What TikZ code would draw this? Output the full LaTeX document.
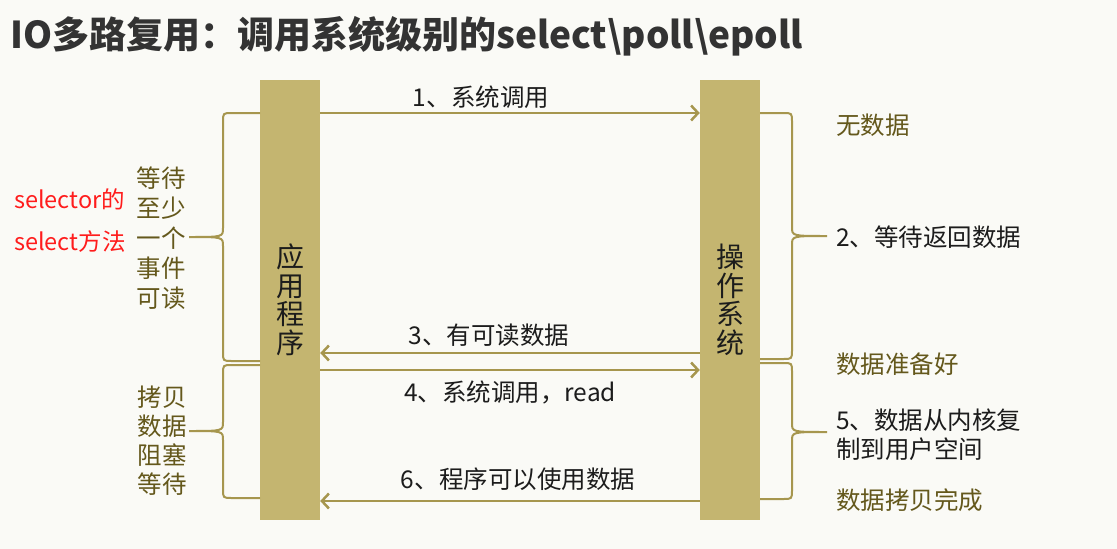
\documentclass[tikz,border=0pt]{standalone}
\usepackage{fontspec}
\setmainfont{Noto Sans CJK SC}
\usetikzlibrary{arrows.meta}
\definecolor{bg}{RGB}{250,250,246}
\definecolor{barc}{RGB}{196,181,112}
\definecolor{linec}{RGB}{166,150,78}
\definecolor{olive}{RGB}{100,88,28}
\definecolor{ink}{RGB}{28,28,28}
\definecolor{redt}{RGB}{255,28,28}
% left-pointing brace: #1 end x, #2 vertical x, #3 tip x, #4 top y, #5 mid y, #6 bottom y
\newcommand\leftbrc[6]{%
  \draw[brc] (#1,#4) -- ({#2+9},#4) .. controls (#2,#4) .. (#2,{#4+9})
    -- (#2,{#5-9}) .. controls (#2,#5) .. (#3,#5)
    .. controls (#2,#5) .. (#2,{#5+9}) -- (#2,{#6-9})
    .. controls (#2,#6) .. ({#2+9},#6) -- (#1,#6);}
\newcommand\rightbrc[6]{%
  \draw[brc] (#1,#4) -- ({#2-9},#4) .. controls (#2,#4) .. (#2,{#4+9})
    -- (#2,{#5-9}) .. controls (#2,#5) .. (#3,#5)
    .. controls (#2,#5) .. (#2,{#5+9}) -- (#2,{#6-9})
    .. controls (#2,#6) .. ({#2-9},#6) -- (#1,#6);}
\begin{document}
\begin{tikzpicture}[x=1pt,y=-1pt,
  bar/.style={fill=barc, minimum width=60pt, minimum height=440pt, inner sep=0pt,
    align=center, font=\fontsize{28}{28.5}\selectfont, text=ink},
  arr/.style={draw=linec, line width=2.5pt,
    -{Straight Barb[length=7pt,width=15pt,line width=2.5pt]}},
  brc/.style={draw=linec, line width=2pt},
  lbl/.style={font=\fontsize{24.5}{29}\selectfont, text=ink, inner sep=0pt, align=left},
  olv/.style={font=\fontsize{24.5}{29}\selectfont, text=olive, inner sep=0pt, align=center},
  redl/.style={font=\fontsize{23.5}{42}\selectfont, text=redt, inner sep=0pt, align=left}]
\path[use as bounding box, fill=bg] (0,0) rectangle (1117,549);

\node[anchor=west, inner sep=0pt, font=\fontsize{37}{40}\selectfont\bfseries, text=ink!90] (title) at (10,36)
  {IO多路复用：调用系统级别的select\textbackslash poll\textbackslash epoll};

\node[bar] (app) at (290,300) {应\\用\\程\\序};
\node[bar] (os) at (730,300) {操\\作\\系\\统};

\coordinate (y1) at (0,113);
\coordinate (y3) at (0,353);
\coordinate (y4) at (0,370);
\coordinate (y6) at (0,501);
\draw[arr] (app.east |- y1) -- (os.west |- y1);
\draw[arr] (os.west |- y3) -- (app.east |- y3);
\draw[arr] (app.east |- y4) -- (os.west |- y4);
\draw[arr] (os.west |- y6) -- (app.east |- y6);

\node[lbl] (l1) at (481,97) {1、系统调用};
\node[lbl] (l3) at (489,335) {3、有可读数据};
\node[lbl] (l4) at (510,392) {4、系统调用，read};
\node[lbl] (l6) at (518,479) {6、程序可以使用数据};

\leftbrc{260}{223}{189}{113}{237}{361}
\leftbrc{260}{223}{189}{365}{431}{498}
\rightbrc{760}{792}{827}{113}{236}{359}
\rightbrc{760}{792}{827}{363}{432}{499}

\node[olv, font=\fontsize{24.5}{30}\selectfont] (w1) at (161,238) {等待\\至少\\一个\\事件\\可读};
\node[olv] (w2) at (162,441) {拷贝\\数据\\阻塞\\等待};
\node[redl, anchor=west] (sel) at (14,221) {selector的\\select方法};

\node[olv, anchor=west] (r1) at (836,125) {无数据};
\node[lbl, anchor=west] (r2) at (836,237) {2、等待返回数据};
\node[olv, anchor=west] (r3) at (836,364) {数据准备好};
\node[lbl, anchor=west] (r4) at (836,435) {5、数据从内核复\\制到用户空间};
\node[olv, anchor=west] (r5) at (836,500) {数据拷贝完成};
\end{tikzpicture}
\end{document}
